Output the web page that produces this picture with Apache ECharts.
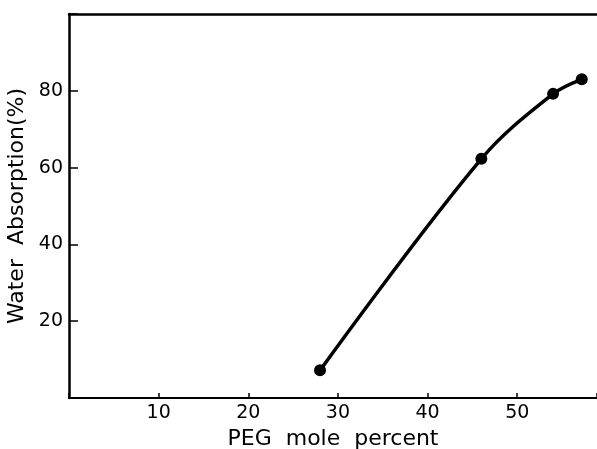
<!DOCTYPE html>
<html>
<head>
<meta charset="utf-8">
<script src="https://cdn.jsdelivr.net/npm/echarts@6/dist/echarts.min.js"></script>
<style>
  html, body { margin: 0; padding: 0; background: #fff; }
  #chart { width: 597px; height: 449px; }
</style>
</head>
<body>
<div id="chart"></div>
<script>
// PEG mole percent vs water absorption
const pegPercent = [28, 46, 54, 57.2];
const waterAbsorption = [7.2, 62.3, 79.2, 83];
const xTicks = [10, 20, 30, 40, 50];
const yTicks = [20, 40, 60, 80];

const font = '"DejaVu Sans", sans-serif';
const chart = echarts.init(document.getElementById('chart'));

chart.setOption({
    animation: false,
    grid: { left: 69, top: 14, right: 0, bottom: 51, outerBoundsMode: 'none' },
    xAxis: [
        {
            type: 'value',
            min: 0,
            max: 58.9,
            interval: 10,
            name: 'PEG  mole  percent',
            nameLocation: 'middle',
            nameGap: 27,
            nameTextStyle: { fontFamily: font, fontSize: 22, color: '#000' },
            axisLine: { lineStyle: { color: '#000', width: 2 } },
            axisTick: { inside: true, length: 5, lineStyle: { color: '#000', width: 1.5 } },
            axisLabel: {
                fontFamily: font, fontSize: 19, color: '#000', margin: 6,
                formatter: v => xTicks.includes(v) ? String(v) : ''
            },
            splitLine: { show: false }
        },
        {
            type: 'value',
            position: 'top',
            min: 0,
            max: 58.9,
            axisLine: { show: true, onZero: false, lineStyle: { color: '#000', width: 2.5 } },
            axisTick: { show: false },
            axisLabel: { show: false },
            splitLine: { show: false }
        }
    ],
    yAxis: {
        type: 'value',
        min: 0,
        max: 100,
        interval: 20,
        name: 'Water  Absorption(%)',
        nameLocation: 'middle',
        nameGap: 36,
        nameTextStyle: { fontFamily: font, fontSize: 22, color: '#000' },
        axisLine: { show: true, lineStyle: { color: '#000', width: 2.5 } },
        axisTick: { inside: true, length: 9, lineStyle: { color: '#000', width: 1.5 } },
        axisLabel: {
            fontFamily: font, fontSize: 19, color: '#000', margin: 6,
            formatter: v => yTicks.includes(v) ? String(v) : ''
        },
        splitLine: { show: false }
    },
    series: [
        {
            type: 'line',
            data: pegPercent.map((x, i) => [x, waterAbsorption[i]]),
            smooth: 0.35,
            symbol: 'circle',
            symbolSize: 12,
            lineStyle: { color: '#000', width: 3.5 },
            itemStyle: { color: '#000' }
        }
    ]
});
</script>
</body>
</html>
